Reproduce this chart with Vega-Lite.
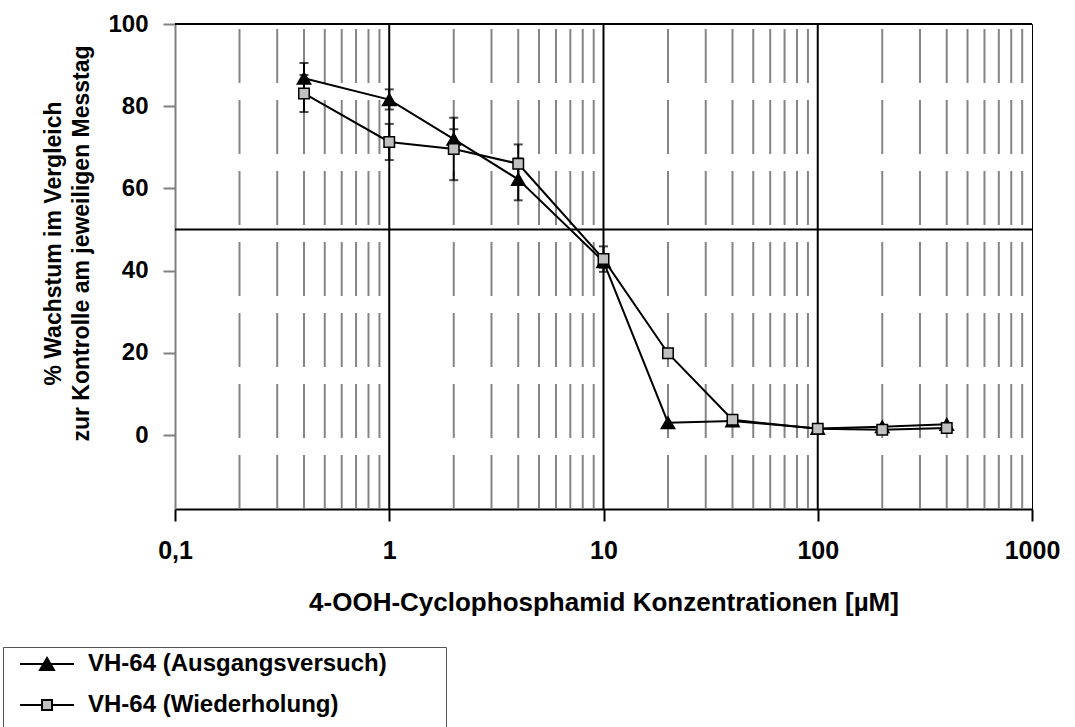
{
  "$schema": "https://vega.github.io/schema/vega-lite/v6.json",
  "width": 857,
  "height": 485,
  "autosize": {"type": "none"},
  "padding": {"left": 175, "top": 24, "right": 43, "bottom": 218},
  "background": "white",
  "config": {
    "font": "Liberation Sans",
    "view": {"stroke": "#000", "strokeWidth": 1},
    "legend": {
      "title": null,
      "orient": "none", "legendX": -172, "legendY": 623,
      "direction": "vertical",
      "strokeColor": "#555", "padding": 5,
      "labelFont": "Liberation Sans", "labelFontSize": 24, "labelFontWeight": "bold", "labelColor": "#000",
      "labelLimit": 600,
      "symbolSize": 100, "symbolStrokeWidth": 2, "symbolOpacity": 1,
      "symbolOffset": 27, "labelOffset": 29, "rowPadding": 17
    }
  },
  "datasets": {
    "main": [
      {"series": "VH-64 (Ausgangsversuch)", "conc": 0.4, "val": 86.8, "lo": 83.1, "hi": 90.5},
      {"series": "VH-64 (Ausgangsversuch)", "conc": 1, "val": 81.6, "lo": 79.2, "hi": 84.1},
      {"series": "VH-64 (Ausgangsversuch)", "conc": 2, "val": 72.0, "lo": 69.6, "hi": 74.4},
      {"series": "VH-64 (Ausgangsversuch)", "conc": 4, "val": 62.2, "lo": 57.1, "hi": 67.3},
      {"series": "VH-64 (Ausgangsversuch)", "conc": 10, "val": 42.2, "lo": 40.7, "hi": 43.7},
      {"series": "VH-64 (Ausgangsversuch)", "conc": 20, "val": 3.0, "lo": null, "hi": null},
      {"series": "VH-64 (Ausgangsversuch)", "conc": 40, "val": 3.4, "lo": null, "hi": null},
      {"series": "VH-64 (Ausgangsversuch)", "conc": 100, "val": 1.6, "lo": null, "hi": null},
      {"series": "VH-64 (Ausgangsversuch)", "conc": 200, "val": 2.0, "lo": null, "hi": null},
      {"series": "VH-64 (Ausgangsversuch)", "conc": 400, "val": 2.6, "lo": null, "hi": null},
      {"series": "VH-64 (Wiederholung)", "conc": 0.4, "val": 83.1, "lo": 78.6, "hi": 87.6},
      {"series": "VH-64 (Wiederholung)", "conc": 1, "val": 71.3, "lo": 66.9, "hi": 75.7},
      {"series": "VH-64 (Wiederholung)", "conc": 2, "val": 69.6, "lo": 62.0, "hi": 77.2},
      {"series": "VH-64 (Wiederholung)", "conc": 4, "val": 66.0, "lo": 61.3, "hi": 70.7},
      {"series": "VH-64 (Wiederholung)", "conc": 10, "val": 42.8, "lo": 39.7, "hi": 45.9},
      {"series": "VH-64 (Wiederholung)", "conc": 20, "val": 19.9, "lo": null, "hi": null},
      {"series": "VH-64 (Wiederholung)", "conc": 40, "val": 3.7, "lo": null, "hi": null},
      {"series": "VH-64 (Wiederholung)", "conc": 100, "val": 1.5, "lo": null, "hi": null},
      {"series": "VH-64 (Wiederholung)", "conc": 200, "val": 1.3, "lo": null, "hi": null},
      {"series": "VH-64 (Wiederholung)", "conc": 400, "val": 1.7, "lo": null, "hi": null}
    ],
    "minor": [
      {"g": 0.2}, {"g": 0.3}, {"g": 0.4}, {"g": 0.5}, {"g": 0.6}, {"g": 0.7}, {"g": 0.8}, {"g": 0.9},
      {"g": 2}, {"g": 3}, {"g": 4}, {"g": 5}, {"g": 6}, {"g": 7}, {"g": 8}, {"g": 9},
      {"g": 20}, {"g": 30}, {"g": 40}, {"g": 50}, {"g": 60}, {"g": 70}, {"g": 80}, {"g": 90},
      {"g": 200}, {"g": 300}, {"g": 400}, {"g": 500}, {"g": 600}, {"g": 700}, {"g": 800}, {"g": 900}
    ],
    "major": [{"g": 1}, {"g": 10}, {"g": 100}],
    "hlines": [{"h": 50}, {"h": 100}]
  },
  "layer": [
    {
      "data": {"name": "minor"},
      "mark": {"type": "rule", "color": "#858585", "strokeWidth": 2, "strokeDash": [54, 17], "strokeDashOffset": 66},
      "encoding": {
        "x": {
          "field": "g", "type": "quantitative",
          "scale": {"type": "log", "domain": [0.1, 1000], "nice": false},
          "axis": {
            "title": "4-OOH-Cyclophosphamid Konzentrationen [µM]",
            "values": [0.1, 1, 10, 100, 1000],
            "labelExpr": "datum.value < 0.5 ? '0,1' : format(datum.value, 'd')",
            "grid": false,
            "domainColor": "#000", "domainWidth": 2,
            "tickColor": "#000", "tickWidth": 2, "tickSize": 12,
            "labelFont": "Liberation Sans", "labelFontSize": 25, "labelFontWeight": "bold", "labelColor": "#000",
            "labelPadding": 17, "labelFlush": false, "labelOverlap": false,
            "titleFont": "Liberation Sans", "titleFontSize": 26, "titleFontWeight": "bold", "titleColor": "#000",
            "titlePadding": 26
          }
        }
      }
    },
    {
      "data": {"name": "major"},
      "mark": {"type": "rule", "color": "#000", "strokeWidth": 2},
      "encoding": {
        "x": {"field": "g", "type": "quantitative", "scale": {"type": "log", "domain": [0.1, 1000], "nice": false}}
      }
    },
    {
      "data": {"name": "hlines"},
      "mark": {"type": "rule", "color": "#000", "strokeWidth": 2},
      "encoding": {
        "y": {
          "field": "h", "type": "quantitative",
          "scale": {"domain": [-18, 100], "nice": false, "zero": false},
          "axis": {
            "title": ["% Wachstum im Vergleich", "zur Kontrolle am jeweiligen Messtag"],
            "values": [0, 20, 40, 60, 80, 100],
            "grid": false,
            "domainColor": "#808080", "domainWidth": 2,
            "tickColor": "#808080", "tickWidth": 2, "tickSize": 12,
            "labelFont": "Liberation Sans", "labelFontSize": 24, "labelFontWeight": "bold", "labelColor": "#000",
            "labelPadding": 15,
            "titleFont": "Liberation Sans", "titleFontSize": 23, "titleFontWeight": "bold", "titleColor": "#000",
            "titlePadding": 14, "titleLineHeight": 28, "titleY": 219
          }
        }
      }
    },
    {
      "data": {"name": "main"},
      "mark": {"type": "line", "color": "#000", "strokeWidth": 2},
      "encoding": {
        "x": {"field": "conc", "type": "quantitative", "scale": {"type": "log", "domain": [0.1, 1000], "nice": false}},
        "y": {"field": "val", "type": "quantitative", "scale": {"domain": [-18, 100], "nice": false, "zero": false}},
        "detail": {"field": "series"}
      }
    },
    {
      "data": {"name": "main"},
      "transform": [{"filter": "isValid(datum.lo)"}],
      "mark": {"type": "rule", "color": "#000", "strokeWidth": 2},
      "encoding": {
        "x": {"field": "conc", "type": "quantitative"},
        "y": {"field": "lo", "type": "quantitative"},
        "y2": {"field": "hi"}
      }
    },
    {
      "data": {"name": "main"},
      "transform": [{"filter": "isValid(datum.lo)"}],
      "mark": {"type": "tick", "orient": "horizontal", "color": "#000", "size": 9, "thickness": 2},
      "encoding": {
        "x": {"field": "conc", "type": "quantitative"},
        "y": {"field": "lo", "type": "quantitative"}
      }
    },
    {
      "data": {"name": "main"},
      "transform": [{"filter": "isValid(datum.hi)"}],
      "mark": {"type": "tick", "orient": "horizontal", "color": "#000", "size": 9, "thickness": 2},
      "encoding": {
        "x": {"field": "conc", "type": "quantitative"},
        "y": {"field": "hi", "type": "quantitative"}
      }
    },
    {
      "data": {"name": "main"},
      "transform": [{"filter": "datum.series === 'VH-64 (Ausgangsversuch)'"}],
      "mark": {"type": "point", "shape": "triangle-up", "filled": true, "fill": "#000", "opacity": 1, "stroke": "#000", "strokeWidth": 1.5, "size": 180},
      "encoding": {
        "x": {"field": "conc", "type": "quantitative"},
        "y": {"field": "val", "type": "quantitative"}
      }
    },
    {
      "data": {"name": "main"},
      "transform": [{"filter": "datum.series === 'VH-64 (Wiederholung)'"}],
      "mark": {"type": "point", "shape": "square", "filled": true, "fill": "#c0c0c0", "opacity": 1, "stroke": "#000", "strokeWidth": 1.5, "size": 110},
      "encoding": {
        "x": {"field": "conc", "type": "quantitative"},
        "y": {"field": "val", "type": "quantitative"}
      }
    },
    {
      "data": {"name": "main"},
      "transform": [{"filter": "datum.conc < 0"}],
      "mark": {"type": "point", "filled": true, "strokeWidth": 2},
      "encoding": {
        "x": {"field": "conc", "type": "quantitative"},
        "y": {"field": "val", "type": "quantitative"},
        "shape": {
          "field": "series", "type": "nominal",
          "scale": {
            "domain": ["VH-64 (Ausgangsversuch)", "VH-64 (Wiederholung)"],
            "range": ["M-5.4,0H5.4M0,-1.2L1.4,1.2H-1.4Z", "M-5.4,0H-1M1,0H5.4M-1,-1H1V1H-1ZM78,8"]
          }
        },
        "fill": {
          "field": "series", "type": "nominal",
          "scale": {"domain": ["VH-64 (Ausgangsversuch)", "VH-64 (Wiederholung)"], "range": ["#000000", "#c0c0c0"]}
        },
        "stroke": {
          "field": "series", "type": "nominal",
          "scale": {"domain": ["VH-64 (Ausgangsversuch)", "VH-64 (Wiederholung)"], "range": ["#000000", "#000000"]}
        }
      }
    }
  ]
}
